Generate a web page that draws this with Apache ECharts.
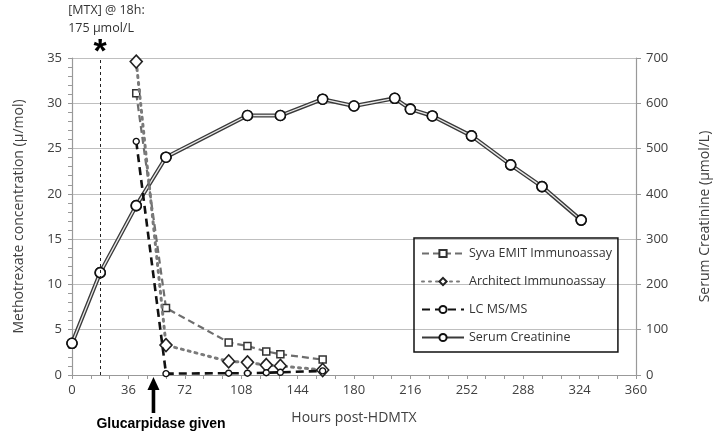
<!DOCTYPE html>
<html>
<head>
<meta charset="utf-8">
<script src="https://cdn.jsdelivr.net/npm/echarts@6/dist/echarts.min.js"></script>
<style>
  html, body { margin: 0; padding: 0; background: #fff; }
  #chart { width: 720px; height: 437px; }
</style>
</head>
<body>
<div id="chart"></div>
<script>
// MTX sampling times (hours post-HDMTX) and concentrations
const mtxHours = [41, 60, 100, 112, 124, 133, 160];
const syvaValues = [31.1, 7.4, 3.6, 3.2, 2.6, 2.3, 1.7];
const architectValues = [34.6, 3.3, 1.5, 1.4, 1.1, 1.0, 0.55];
const lcmsValues = [25.8, 0.15, 0.2, 0.2, 0.25, 0.3, 0.45];

// serum creatinine (umol/L)
const creatHours = [0, 18, 41, 60, 112, 133, 160, 180, 206, 216, 230, 255, 280, 300, 325];
const creatValues = [70, 226, 374, 481, 573, 573, 609, 594, 611, 587, 572, 528, 464, 416, 342];

const mtxAt18h = 18;
const glucarpidaseHour = 52;

const pairs = (xs, ys) => xs.map((x, i) => [x, ys[i]]);

const fontFam = "Open Sans";
const labelColor = "#404040";

const chart = echarts.init(document.getElementById("chart"), null, { renderer: "canvas" });

const option = {
  animation: false,
  textStyle: { fontFamily: fontFam },
  grid: { left: 72, right: 82, top: 58, bottom: 62 },
  legend: {
    orient: "vertical",
    left: 414,
    top: 238,
    data: ["Syva EMIT Immunoassay", "Architect Immunoassay", "LC MS/MS", "Serum Creatinine"],
    itemWidth: 42,
    itemHeight: 9,
    itemGap: 15,
    padding: [9, 6, 8, 7],
    borderColor: "#111",
    borderWidth: 1.5,
    textStyle: { fontSize: 12.5, color: "#333", fontFamily: fontFam },
  },
  xAxis: {
    type: "value",
    min: 0,
    max: 360,
    interval: 36,
    name: "Hours post-HDMTX",
    nameLocation: "middle",
    nameGap: 36,
    nameTextStyle: { fontSize: 14, color: labelColor },
    axisLine: { show: true, lineStyle: { color: "#999", width: 1.2 } },
    axisTick: { show: true, length: 4, lineStyle: { color: "#999" } },
    minorTick: { show: true, splitNumber: 3, length: 4, lineStyle: { color: "#999" } },
    axisLabel: { fontSize: 13, color: labelColor, margin: 9 },
    splitLine: { show: false },
  },
  yAxis: [
    {
      type: "value",
      min: 0,
      max: 35,
      interval: 5,
      name: "Methotrexate concentration (µ/mol)",
      nameLocation: "middle",
      nameGap: 46,
      nameTextStyle: { fontSize: 14, color: labelColor },
      axisLine: { show: true, lineStyle: { color: "#999", width: 1.2 } },
      axisTick: { show: true, length: 4, lineStyle: { color: "#999" } },
      minorTick: { show: true, splitNumber: 5, length: 4, lineStyle: { color: "#999" } },
      axisLabel: { fontSize: 13, color: labelColor, margin: 10 },
      splitLine: { show: true, lineStyle: { color: "#bfbfbf", width: 1.2 } },
    },
    {
      type: "value",
      min: 0,
      max: 700,
      interval: 100,
      position: "right",
      name: "Serum Creatinine (µmol/L)",
      nameLocation: "middle",
      nameGap: 62,
      nameRotate: 90,
      nameTextStyle: { fontSize: 14, color: labelColor },
      axisLine: { show: true, lineStyle: { color: "#999", width: 1.2 } },
      axisTick: { show: true, length: 5, lineStyle: { color: "#999" } },
      axisLabel: { fontSize: 13, color: labelColor, margin: 10 },
      splitLine: { show: false },
    },
  ],
  series: [
    {
      name: "Serum Creatinine",
      type: "line",
      yAxisIndex: 1,
      data: pairs(creatHours, creatValues),
      symbol: "circle",
      symbolSize: 10,
      itemStyle: { color: "#fff", borderColor: "#111", borderWidth: 1.6 },
      lineStyle: { color: "#3a3a3a", width: 4 },
      z: 2,
    },
    {
      name: "creat-inner",
      type: "line",
      yAxisIndex: 1,
      data: pairs(creatHours, creatValues),
      symbol: "circle",
      symbolSize: 10,
      itemStyle: { color: "#fff", borderColor: "#111", borderWidth: 1.6 },
      lineStyle: { color: "#e8e8e8", width: 1.3 },
      z: 3,
      silent: true,
      markLine: {
        silent: true,
        symbol: "none",
        label: { show: false },
        lineStyle: { color: "#222", type: [3, 3], width: 1 },
        data: [{ xAxis: mtxAt18h }],
      },
    },
    {
      name: "Syva EMIT Immunoassay",
      type: "line",
      data: pairs(mtxHours, syvaValues),
      symbol: "rect",
      symbolSize: 7,
      itemStyle: { color: "#fff", borderColor: "#333", borderWidth: 1.5 },
      lineStyle: { color: "#6e6e6e", width: 2.2, type: [7, 4] },
      z: 4,
    },
    {
      name: "Architect Immunoassay",
      type: "line",
      data: pairs(mtxHours, architectValues),
      symbol: "diamond",
      symbolSize: [12, 13],
      itemStyle: { color: "#fff", borderColor: "#222", borderWidth: 1.6 },
      lineStyle: { color: "#7a7a7a", width: 3, type: [2, 5], cap: "round" },
      z: 5,
    },
    {
      name: "LC MS/MS",
      type: "line",
      data: pairs(mtxHours, lcmsValues),
      symbol: "circle",
      symbolSize: 6,
      itemStyle: { color: "#fff", borderColor: "#111", borderWidth: 1.4 },
      lineStyle: { color: "#111", width: 2.6, type: [8, 5] },
      z: 6,
    },
  ],
};

chart.setOption(option);

// annotations placed from data coordinates
const p18 = chart.convertToPixel({ xAxisIndex: 0, yAxisIndex: 0 }, [mtxAt18h, 35]);
const pG = chart.convertToPixel({ xAxisIndex: 0, yAxisIndex: 0 }, [glucarpidaseHour, 0]);

chart.setOption({
  graphic: [
    {
      type: "text",
      left: p18[0] - 32,
      top: 4,
      style: { text: "[MTX] @ 18h:", fontSize: 12.5, fill: "#333", fontFamily: fontFam },
    },
    {
      type: "text",
      left: p18[0] - 32,
      top: 22,
      style: { text: "175 µmol/L", fontSize: 12.5, fill: "#333", fontFamily: fontFam },
    },
    {
      type: "text",
      x: p18[0],
      y: p18[1] - 5,
      style: {
        text: "*",
        fontSize: 34,
        fontWeight: "bold",
        fill: "#000",
        align: "center",
        verticalAlign: "middle",
        fontFamily: "Liberation Sans",
      },
    },
    {
      type: "polygon",
      shape: {
        points: [
          [pG[0], pG[1] + 2],
          [pG[0] - 6, pG[1] + 15],
          [pG[0] + 6, pG[1] + 15],
        ],
      },
      style: { fill: "#000" },
    },
    {
      type: "rect",
      shape: { x: pG[0] - 1.8, y: pG[1] + 14, width: 3.6, height: 24 },
      style: { fill: "#000" },
    },
    {
      type: "text",
      left: pG[0] - 57,
      top: pG[1] + 42,
      style: {
        text: "Glucarpidase given",
        fontSize: 14,
        fontWeight: "bold",
        fill: "#000",
        fontFamily: "Liberation Sans",
      },
    },
  ],
});
</script>
</body>
</html>
